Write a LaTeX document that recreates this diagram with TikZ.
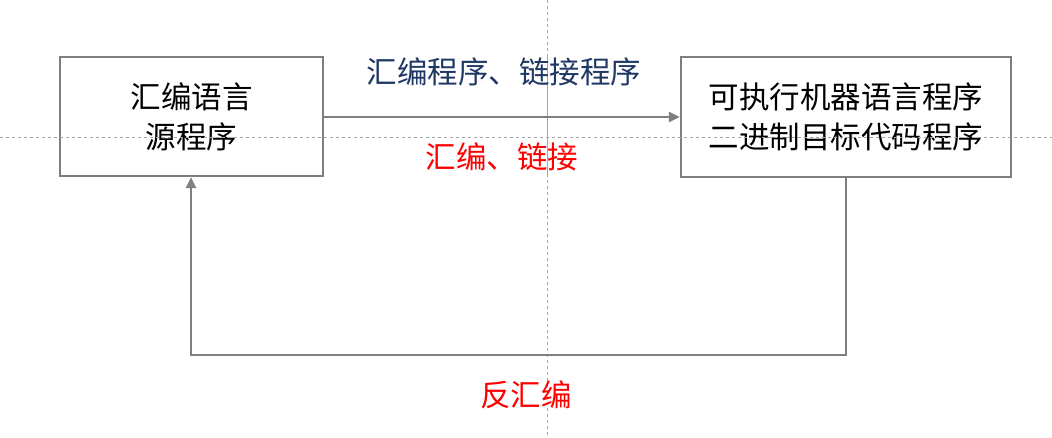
\documentclass[tikz,border=0pt]{standalone}
\usepackage{fontspec}
\newfontfamily\cjk{Noto Sans CJK SC}
\usetikzlibrary{arrows.meta}
\definecolor{linegray}{HTML}{7F7F7F}
\definecolor{guidegray}{HTML}{A6A6A6}
\definecolor{labelblue}{HTML}{1F3864}
\begin{document}
\begin{tikzpicture}[x=1pt,y=1pt,
  box/.style={draw=linegray,line width=2.2pt,fill=white,inner sep=0pt,align=center,font=\cjk\fontsize{30.5}{40}\selectfont},
  conn/.style={draw=linegray,line width=2.2pt,-{Triangle[length=11pt,width=10pt]}},
  lbl/.style={font=\cjk\fontsize{30.5}{36}\selectfont,inner sep=0pt},
  guide/.style={draw=guidegray,line width=0.8pt,dash pattern=on 3pt off 3pt}]
\useasboundingbox (0,0) rectangle (1052,-438);
\fill[white] (0,0) rectangle (1052,-438);
\draw[guide] (547,0) -- (547,-438);
\draw[guide] (0,-137) -- (1052,-137);
\node[box,minimum width=263pt,minimum height=119pt] (src) at (191.5,-116.5) {汇编语言\\源程序};
\node[box,minimum width=330pt,minimum height=120pt] (exe) at (846,-117) {可执行机器语言程序\\二进制目标代码程序};
\draw[guide] (547,-57) -- (547,-177);
\draw[guide] (60,-137) -- (1011,-137);
\coordinate (c1) at (846,-355);
\coordinate (c2) at (191,-355);
\draw[conn] (src.east |- 0,-117) -- (exe.west |- 0,-117);
\draw[conn] (exe.south -| 846,0) -- (c1) -- (c2) -- (src.south -| 191,0);
\node[lbl,text=labelblue] (l1) at (504,-72) {汇编程序、链接程序};
\node[lbl,text=red] (l2) at (502,-157) {汇编、链接};
\node[lbl,text=red] (l3) at (526,-395) {反汇编};
\end{tikzpicture}
\end{document}
